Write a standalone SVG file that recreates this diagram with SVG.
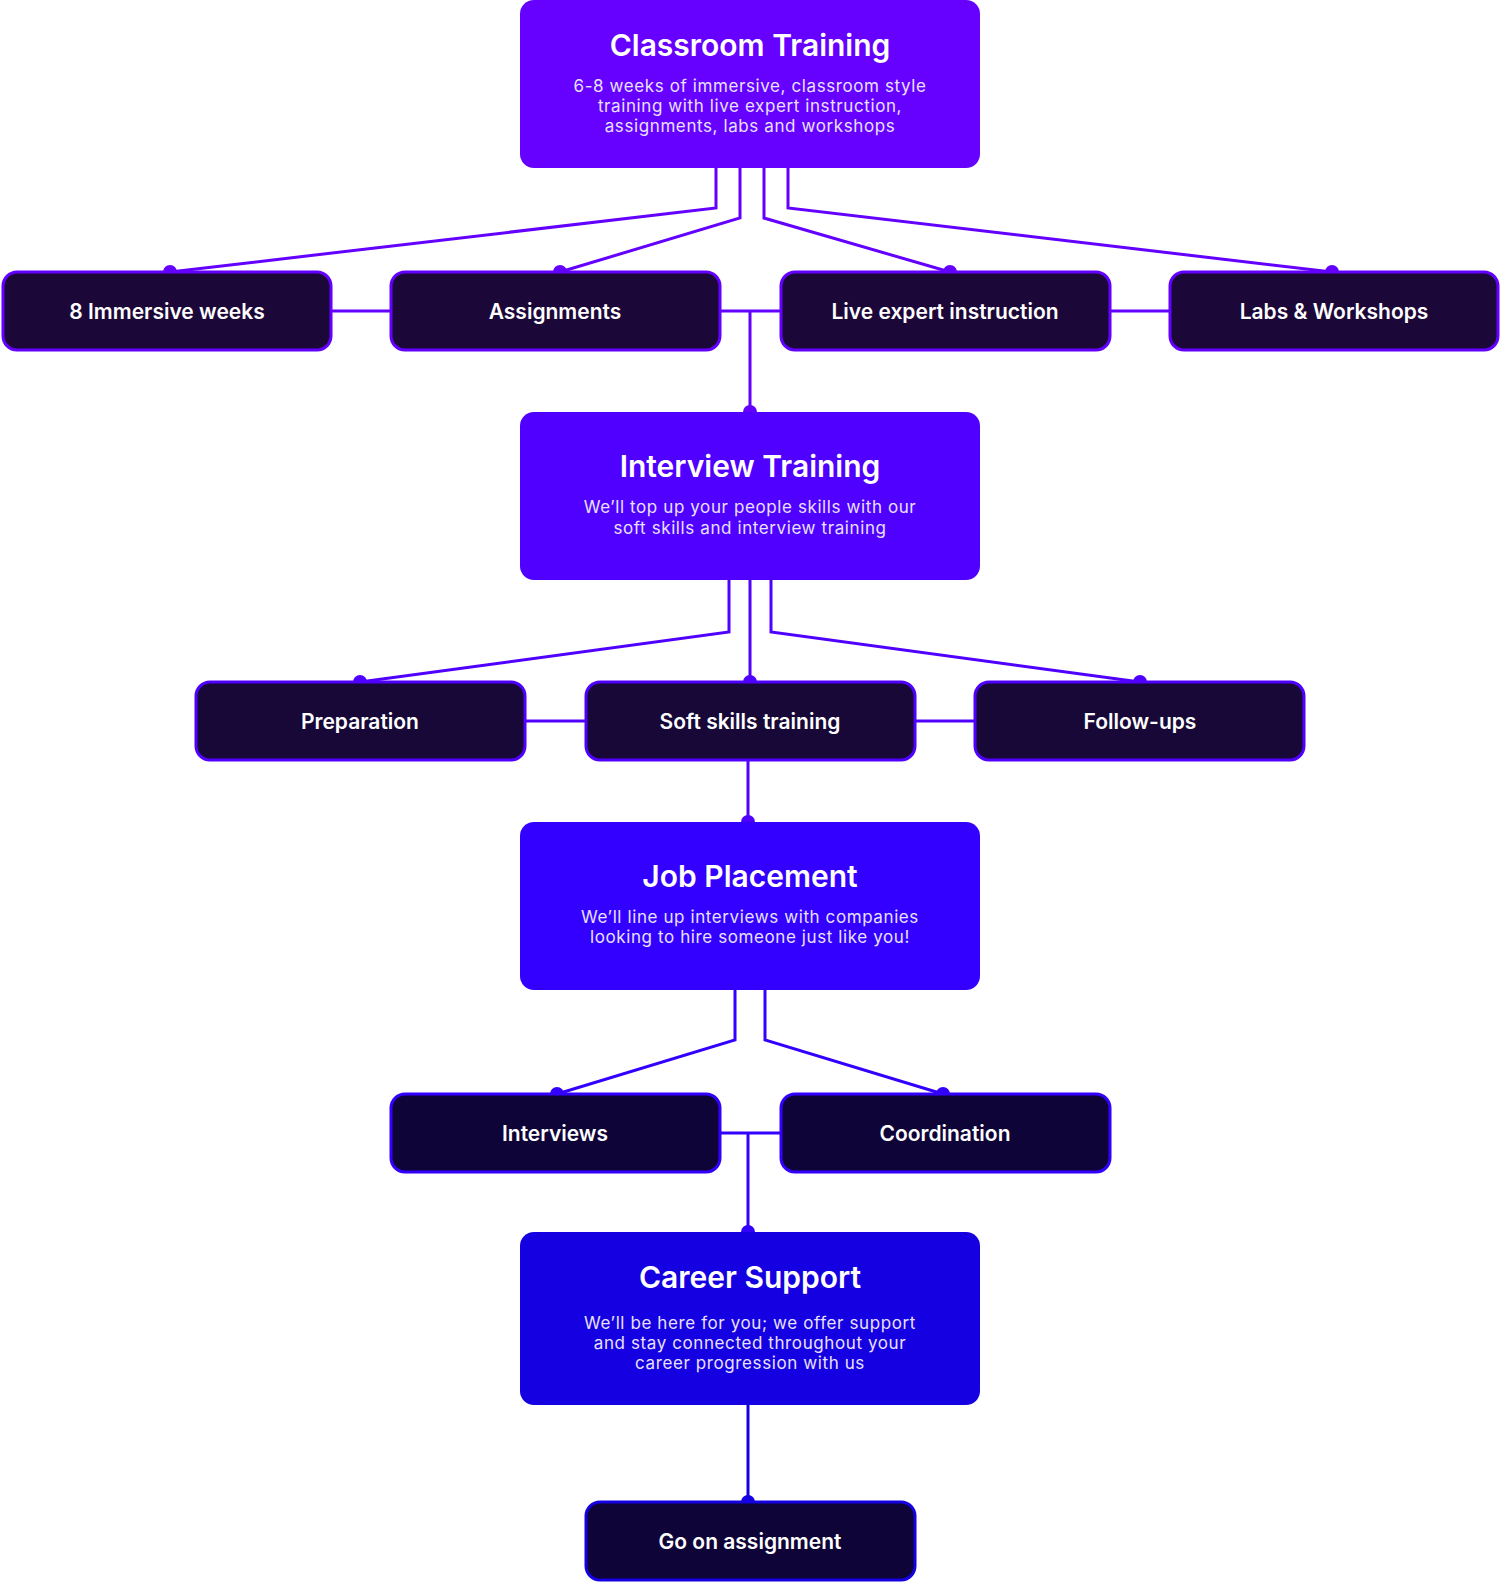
<svg xmlns="http://www.w3.org/2000/svg" width="1500" height="1582" viewBox="0 0 1500 1582">
<style>
.t{font-family:Inter,"Noto Sans",sans-serif;font-weight:600;font-size:30px;fill:#fff;text-anchor:middle}
.d{font-family:Inter,"Noto Sans",sans-serif;font-size:17px;fill:#e8e0ff;text-anchor:middle;letter-spacing:0.6px}
.s{font-family:Inter,"Noto Sans",sans-serif;font-weight:600;font-size:21px;fill:#fff;text-anchor:middle}
.c{fill:none;stroke-width:3}
</style>
<rect width="1500" height="1582" fill="#fff"/>
<g id="connectors">
 <g stroke="#6300ff" class="c">
  <polyline points="716,168 716,208 170,272"/>
  <polyline points="740,168 740,218 560,272"/>
  <polyline points="764,168 764,218 950,272"/>
  <polyline points="788,168 788,208 1332,272"/>
  <line x1="331" y1="311" x2="390" y2="311"/>
  <line x1="720" y1="311" x2="780" y2="311"/>
  <line x1="1110" y1="311" x2="1170" y2="311"/>
  <line x1="750" y1="311" x2="750" y2="412"/>
 </g>
 <g stroke="#5000ff" class="c">
  <polyline points="729,580 729,632 360,682"/>
  <line x1="750" y1="580" x2="750" y2="682"/>
  <polyline points="771,580 771,632 1140,682"/>
  <line x1="525" y1="721" x2="585" y2="721"/>
  <line x1="915" y1="721" x2="975" y2="721"/>
  <line x1="748" y1="760" x2="748" y2="822"/>
 </g>
 <g stroke="#3300ff" class="c">
  <polyline points="735,990 735,1040 557,1094"/>
  <polyline points="765,990 765,1040 943,1094"/>
  <line x1="720" y1="1133" x2="780" y2="1133"/>
  <line x1="748" y1="1133" x2="748" y2="1232"/>
 </g>
 <line x1="748" y1="1405" x2="748" y2="1502" stroke="#1400e0" class="c"/>
 <g fill="#6300ff"><circle cx="170" cy="272" r="7"/><circle cx="560" cy="272" r="7"/><circle cx="950" cy="272" r="7"/><circle cx="1332" cy="272" r="7"/><circle cx="750" cy="412" r="7"/></g>
 <g fill="#5000ff"><circle cx="360" cy="682" r="7"/><circle cx="750" cy="682" r="7"/><circle cx="1140" cy="682" r="7"/><circle cx="748" cy="822" r="7"/></g>
 <g fill="#3300ff"><circle cx="557" cy="1094" r="7"/><circle cx="943" cy="1094" r="7"/><circle cx="748" cy="1232" r="7"/></g>
 <circle cx="748" cy="1502" r="7" fill="#1400e0"/>
</g>
<g id="classroom"><rect x="520" y="0" width="460" height="168" rx="14" fill="#6600ff"/>
<text class="t" x="750" y="56">Classroom Training</text>
<text class="d" x="750" y="92">6-8 weeks of immersive, classroom style</text>
<text class="d" x="750" y="112">training with live expert instruction,</text>
<text class="d" x="750" y="132">assignments, labs and workshops</text></g>
<g id="n1"><rect x="3" y="272" width="328" height="78" rx="14" fill="#1c0838" stroke="#6300ff" stroke-width="3"/><text class="s" x="167" y="319">8 Immersive weeks</text></g>
<g id="n2"><rect x="391" y="272" width="329" height="78" rx="14" fill="#1c0838" stroke="#6300ff" stroke-width="3"/><text class="s" x="555" y="319">Assignments</text></g>
<g id="n3"><rect x="781" y="272" width="329" height="78" rx="14" fill="#1c0838" stroke="#6300ff" stroke-width="3"/><text class="s" x="945" y="319">Live expert instruction</text></g>
<g id="n4"><rect x="1170" y="272" width="328" height="78" rx="14" fill="#1c0838" stroke="#6300ff" stroke-width="3"/><text class="s" x="1334" y="319">Labs &amp; Workshops</text></g>
<g id="interview"><rect x="520" y="412" width="460" height="168" rx="14" fill="#5000ff"/>
<text class="t" x="750" y="477">Interview Training</text>
<text class="d" x="750" y="513">We’ll top up your people skills with our</text>
<text class="d" x="750" y="534">soft skills and interview training</text></g>
<g id="n5"><rect x="196" y="682" width="329" height="78" rx="14" fill="#170838" stroke="#5000ff" stroke-width="3"/><text class="s" x="360" y="729">Preparation</text></g>
<g id="n6"><rect x="586" y="682" width="329" height="78" rx="14" fill="#170838" stroke="#5000ff" stroke-width="3"/><text class="s" x="750" y="729">Soft skills training</text></g>
<g id="n7"><rect x="975" y="682" width="329" height="78" rx="14" fill="#170838" stroke="#5000ff" stroke-width="3"/><text class="s" x="1140" y="729">Follow-ups</text></g>
<g id="job"><rect x="520" y="822" width="460" height="168" rx="14" fill="#3300ff"/>
<text class="t" x="750" y="887">Job Placement</text>
<text class="d" x="750" y="923">We’ll line up interviews with companies</text>
<text class="d" x="750" y="943">looking to hire someone just like you!</text></g>
<g id="n8"><rect x="391" y="1094" width="329" height="78" rx="14" fill="#0e0438" stroke="#3300ff" stroke-width="3"/><text class="s" x="555" y="1141">Interviews</text></g>
<g id="n9"><rect x="781" y="1094" width="329" height="78" rx="14" fill="#0e0438" stroke="#3300ff" stroke-width="3"/><text class="s" x="945" y="1141">Coordination</text></g>
<g id="career"><rect x="520" y="1232" width="460" height="173" rx="14" fill="#1400e0"/>
<text class="t" x="750" y="1288">Career Support</text>
<text class="d" x="750" y="1329">We’ll be here for you; we offer support</text>
<text class="d" x="750" y="1349">and stay connected throughout your</text>
<text class="d" x="750" y="1369">career progression with us</text></g>
<g id="n10"><rect x="586" y="1502" width="329" height="78" rx="14" fill="#0e0438" stroke="#1400e0" stroke-width="3"/><text class="s" x="750" y="1549">Go on assignment</text></g>
</svg>
